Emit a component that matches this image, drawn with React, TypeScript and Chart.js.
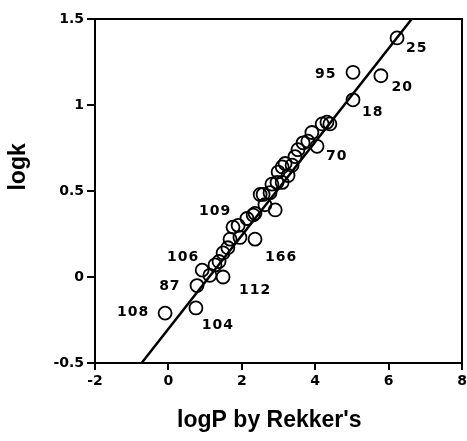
import React, { useEffect, useRef } from "react";
import { Chart, registerables } from "chart.js";

Chart.register(...registerables);

// logP (Rekker's) values of the compounds
const logP: number[] = [
  -0.09, 0.75, 0.78, 0.92, 1.13, 1.27, 1.49, 1.49, 1.38, 1.62, 1.68, 1.76, 1.9, 1.95,
  2.36, 2.14, 2.31, 2.36, 2.63, 2.5, 2.58, 2.77, 2.91, 2.82, 2.96, 3.1, 2.99, 3.26,
  3.1, 3.18, 3.37, 3.45, 3.53, 3.67, 3.8, 3.91, 4.05, 4.19, 4.32, 4.4, 5.03, 5.03,
  5.79, 6.23,
];
// logk values of the compounds
const logk: number[] = [
  -0.21, -0.18, -0.05, 0.04, 0.01, 0.07, 0.0, 0.14, 0.09, 0.17, 0.22, 0.29, 0.3, 0.23,
  0.22, 0.34, 0.36, 0.37, 0.42, 0.48, 0.48, 0.49, 0.39, 0.54, 0.55, 0.55, 0.61, 0.59,
  0.64, 0.66, 0.65, 0.7, 0.74, 0.78, 0.79, 0.84, 0.76, 0.89, 0.9, 0.89, 1.03, 1.19,
  1.17, 1.39,
];

// regression line end points
const fitX: number[] = [-0.73, 6.63];
const fitY: number[] = [-0.5, 1.5];

// compound number labels, anchored in data units
const labelTexts: string[] = ["25", "95", "20", "18", "70", "109", "106", "87", "108", "104", "112", "166"];
const labelX: number[] = [6.77, 4.29, 6.37, 5.57, 4.59, 1.27, 0.4, 0.04, -0.96, 1.35, 2.36, 3.07];
const labelY: number[] = [1.33, 1.18, 1.1, 0.955, 0.7, 0.384, 0.116, -0.053, -0.205, -0.28, -0.076, 0.116];

const xTicks: number[] = [-2, 0, 2, 4, 6, 8];
const yTicks: number[] = [-0.5, 0, 0.5, 1, 1.5];

const xTitle = "logP by Rekker's";
const yTitle = "logk";

const noPad = () => ({ left: 0, right: 0, top: 0, bottom: 0 });

export default function App() {
  const ref = useRef<HTMLCanvasElement | null>(null);

  useEffect(() => {
    document.body.style.margin = "0";
    const canvas = ref.current;
    if (!canvas) return;

    const decorPlugin = {
      id: "decor",
      afterDatasetsDraw(chart: any) {
        const { ctx, chartArea, scales } = chart;
        ctx.save();
        // frame
        ctx.strokeStyle = "#000";
        ctx.lineWidth = 2;
        ctx.strokeRect(chartArea.left, chartArea.top, chartArea.right - chartArea.left, chartArea.bottom - chartArea.top);
        // labels
        ctx.fillStyle = "#000";
        ctx.font = "bold 14px 'DejaVu Sans'";
        (ctx as any).letterSpacing = "1px";
        ctx.textAlign = "center";
        ctx.textBaseline = "middle";
        labelTexts.forEach((t, i) => {
          ctx.fillText(t, scales.x.getPixelForValue(labelX[i]), scales.y.getPixelForValue(labelY[i]));
        });
        (ctx as any).letterSpacing = "0px";
        // axis titles
        ctx.font = "bold 23px 'Liberation Sans'";
        ctx.fillText(xTitle, chartArea.left + (chartArea.right - chartArea.left) * 0.475, 421);
        ctx.translate(19, chartArea.top + (chartArea.bottom - chartArea.top) * 0.43);
        ctx.rotate(-Math.PI / 2);
        ctx.fillText(yTitle, 0, 0);
        ctx.restore();
      },
    };

    const chart = new Chart(canvas, {
      type: "scatter",
      data: {
        datasets: [
          {
            type: "line",
            data: fitX.map((x, i) => ({ x, y: fitY[i] })),
            borderColor: "#000",
            borderWidth: 2.5,
            pointRadius: 0,
            fill: false,
          } as any,
          {
            data: logP.map((x, i) => ({ x, y: logk[i] })),
            pointStyle: "circle",
            pointRadius: 6.5,
            borderWidth: 1.8,
            borderColor: "#000",
            backgroundColor: "rgba(0,0,0,0)",
          },
        ],
      },
      options: {
        animation: false,
        responsive: false,
        maintainAspectRatio: false,
        layout: { autoPadding: false, padding: { top: 19, right: 5, left: 0, bottom: 0 } },
        plugins: { legend: { display: false }, tooltip: { enabled: false }, title: { display: false } },
        scales: {
          x: {
            type: "linear",
            min: -2,
            max: 8,
            afterBuildTicks: (s: any) => {
              s.ticks = xTicks.map((v) => ({ value: v }));
            },
            afterFit: (s: any) => {
              s.height = 78;
              s.paddingRight = 0;
              s.paddingLeft = 0;
              s.getPadding = noPad;
            },
            ticks: {
              color: "#000",
              font: { family: "'DejaVu Sans'", size: 14, weight: "bold" },
              padding: 3,
              maxRotation: 0,
              callback: (v: any) => String(v),
            },
            grid: { drawOnChartArea: false, drawTicks: true, tickLength: 7, color: "#000", lineWidth: 2 },
            border: { display: true, color: "#000", width: 2 },
          },
          y: {
            type: "linear",
            min: -0.5,
            max: 1.5,
            afterBuildTicks: (s: any) => {
              s.ticks = yTicks.map((v) => ({ value: v }));
            },
            afterFit: (s: any) => {
              s.width = 95;
              s.paddingTop = 0;
              s.paddingBottom = 0;
              s.getPadding = noPad;
            },
            ticks: {
              color: "#000",
              font: { family: "'DejaVu Sans'", size: 14, weight: "bold" },
              padding: 3,
              callback: (v: any) => String(v),
            },
            grid: { drawOnChartArea: false, drawTicks: true, tickLength: 8, color: "#000", lineWidth: 2 },
            border: { display: true, color: "#000", width: 2 },
          },
        },
      },
      plugins: [decorPlugin],
    } as any);

    return () => chart.destroy();
  }, []);

  return (
    <div style={{ width: 467, height: 441 }}>
      <canvas ref={ref} width={467} height={441} style={{ display: "block" }} />
    </div>
  );
}
